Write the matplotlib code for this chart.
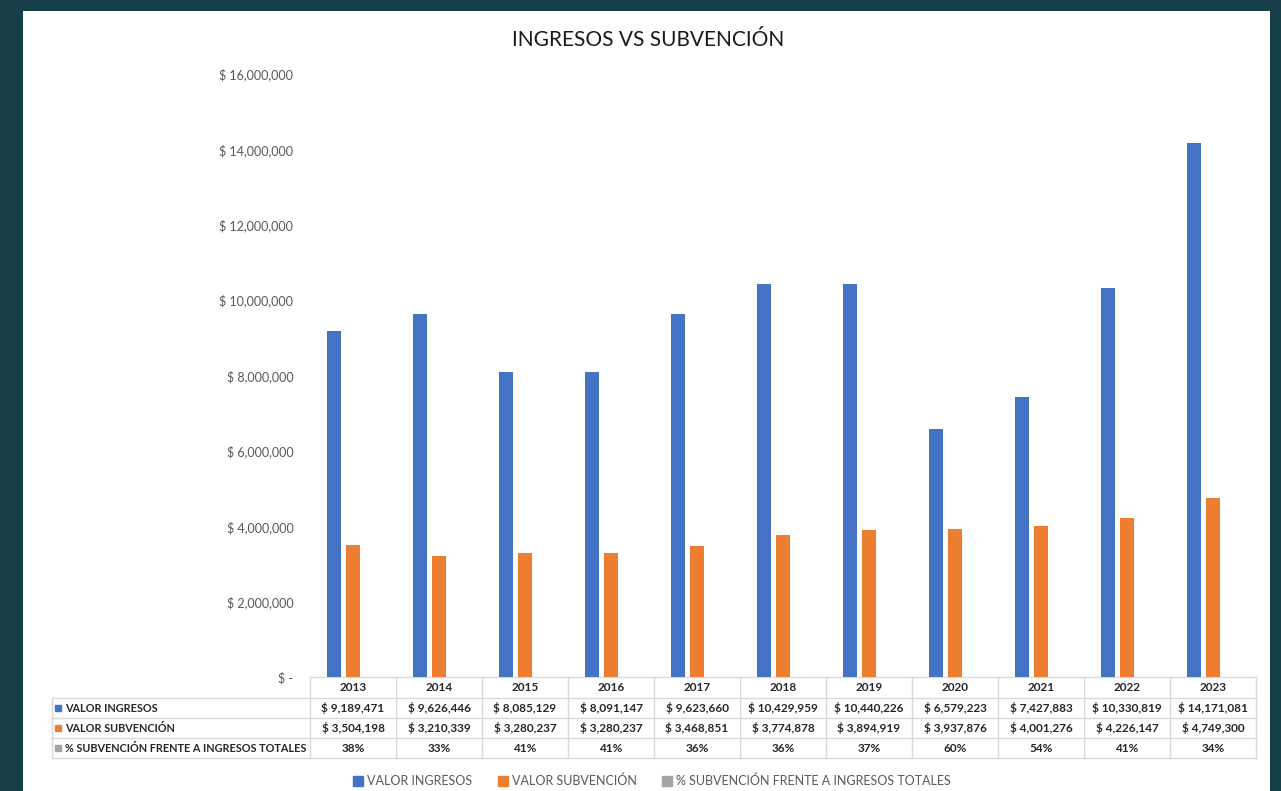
import matplotlib.pyplot as plt
import matplotlib.transforms as mtransforms
from matplotlib.patches import Rectangle
from matplotlib.lines import Line2D
from matplotlib.ticker import FuncFormatter
import numpy as np

years = ["2013", "2014", "2015", "2016", "2017", "2018", "2019", "2020", "2021", "2022", "2023"]
ingresos = [9189471, 9626446, 8085129, 8091147, 9623660, 10429959, 10440226, 6579223, 7427883, 10330819, 14171081]
subvencion = [3504198, 3210339, 3280237, 3280237, 3468851, 3774878, 3894919, 3937876, 4001276, 4226147, 4749300]
porcentaje = [0.38, 0.33, 0.41, 0.41, 0.36, 0.36, 0.37, 0.60, 0.54, 0.41, 0.34]
series_names = ["VALOR INGRESOS", "VALOR SUBVENCIÓN", "% SUBVENCIÓN FRENTE A INGRESOS TOTALES"]
colors = ["#4472C4", "#ED7D31", "#A5A5A5"]

plt.rcParams["font.family"] = ["Lato", "DejaVu Sans"]

W, H = 1281, 791
fig = plt.figure(figsize=(W / 100, H / 100), dpi=100, facecolor="#163f4a")
# white chart area on top of the dark screenshot border
fig.patches.append(Rectangle((23 / W, 0), (1270 - 23) / W, (H - 11) / H, transform=fig.transFigure,
                             facecolor="white", edgecolor="none", zorder=-5))

base_y, top_y = 677, 74
ax = fig.add_axes([310 / W, (H - base_y) / H, (1256 - 310) / W, (base_y - top_y) / H])
ax.set_facecolor("none")
ax.set_zorder(2)

x = np.arange(len(years))
off, bw = 0.22, 0.163
ax.bar(x - off, ingresos, bw, color=colors[0], zorder=3)
ax.bar(x, subvencion, bw, color=colors[1], zorder=3)
ax.bar(x + off, porcentaje, bw, color=colors[2], zorder=3)

ax.set_xlim(-0.5, len(years) - 0.5)
ax.set_ylim(0, 16000000)
ax.set_yticks(np.arange(0, 16000001, 2000000))
ax.yaxis.set_major_formatter(FuncFormatter(lambda v, p: "$ -" if v == 0 else f"$ {v:,.0f}"))
ax.tick_params(axis="y", length=0, pad=12, labelsize=9, labelcolor="#595959")
ax.set_xticks([])
for s in ax.spines.values():
    s.set_visible(False)

fig.text(648 / W, (H - 40) / H, "INGRESOS VS SUBVENCIÓN", ha="center", va="center",
         fontsize=15, color="#1a1a1a")

# data table under the axis
tr = mtransforms.blended_transform_factory(ax.transData, ax.transAxes)
ppx = 1.0 / (base_y - top_y)  # one pixel in axes fraction
col_w = (1256 - 310) / len(years)
label_left = -0.5 - (310 - 52) / col_w
rows = [0, 21, 41, 61, 81]
grid = "#d9d9d9"

def yy(px):
    return -px * ppx

# horizontal lines
ax.plot([-0.5, len(years) - 0.5], [yy(0), yy(0)], transform=tr, color=grid, lw=1, clip_on=False)
for r in rows[1:]:
    ax.plot([label_left, len(years) - 0.5], [yy(r), yy(r)], transform=tr, color=grid, lw=1, clip_on=False)
# vertical lines
for i in range(len(years) + 1):
    ax.plot([i - 0.5, i - 0.5], [yy(0), yy(rows[-1])], transform=tr, color=grid, lw=1, clip_on=False)
ax.plot([label_left, label_left], [yy(rows[1]), yy(rows[-1])], transform=tr, color=grid, lw=1, clip_on=False)

txt = dict(ha="center", va="center", fontsize=8.5, fontweight="bold", color="#262626", transform=tr)
for i, yr in enumerate(years):
    ax.text(i, yy((rows[0] + rows[1]) / 2), yr, **txt)
    ax.text(i, yy((rows[1] + rows[2]) / 2), f"$ {ingresos[i]:,}", **txt)
    ax.text(i, yy((rows[2] + rows[3]) / 2), f"$ {subvencion[i]:,}", **txt)
    ax.text(i, yy((rows[3] + rows[4]) / 2), f"{porcentaje[i]:.0%}", **txt)

key_x = label_left + 6 / col_w
for k, name in enumerate(series_names):
    ym = yy((rows[k + 1] + rows[k + 2]) / 2)
    ax.plot([key_x], [ym], transform=tr, marker="s", ms=5, color=colors[k], clip_on=False, ls="none")
    ax.text(key_x + 7 / col_w, ym, name, ha="left", va="center", fontsize=7.8, fontweight="bold",
            color="#262626", transform=tr)

handles = [Line2D([], [], marker="s", ls="none", ms=7, color=c) for c in colors]
fig.legend(handles, series_names, loc="center", bbox_to_anchor=(652 / W, (H - 781) / H), ncol=3,
           frameon=False, fontsize=9, labelcolor="#595959", handletextpad=0.35, columnspacing=2.0,
           handlelength=0.8)

fig.savefig("out.png", dpi=100, facecolor=fig.get_facecolor())
